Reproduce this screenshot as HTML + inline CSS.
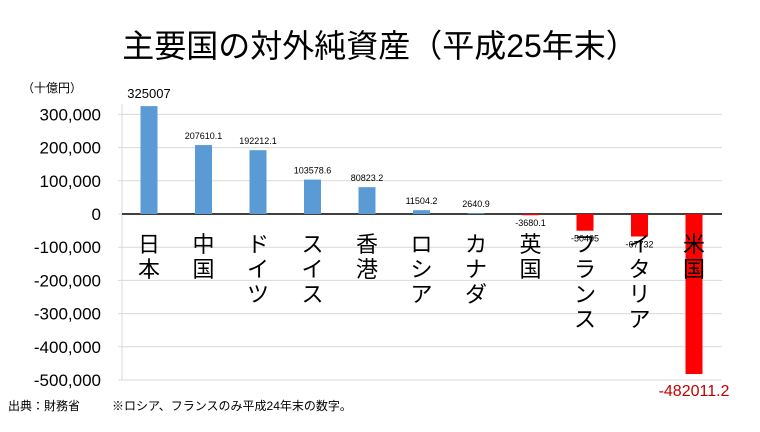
<!DOCTYPE html>
<html><head><meta charset="utf-8"><style>
body{margin:0;background:#fff;}
svg text{font-family:"Liberation Sans","Noto Sans CJK JP",sans-serif;}
</style></head><body>
<svg width="760" height="427" viewBox="0 0 760 427">
<text x="380" y="57" text-anchor="middle" font-size="32" fill="#000">主要国の対外純資産（平成25年末）</text>
<text x="22" y="92" font-size="12" fill="#000">（十億円）</text>
<g id="grid"></g><g id="bars"></g><g id="labels"></g>
<text x="8" y="410" font-size="12">出典：財務省</text>
<text x="112" y="410" font-size="12">※ロシア、フランスのみ平成24年末の数字。</text>
</svg>
<script>
const categories=["日本","中国","ドイツ","スイス","香港","ロシア","カナダ","英国","フランス","イタリア","米国"];
const values=[325007,207610.1,192212.1,103578.6,80823.2,11504.2,2640.9,-3680.1,-50405,-67732,-482011.2];
const valueLabels=["325007","207610.1","192212.1","103578.6","80823.2","11504.2","2640.9","-3680.1","-50405","-67732","-482011.2"];
const ticks=[300000,200000,100000,0,-100000,-200000,-300000,-400000,-500000];
const NS="http://www.w3.org/2000/svg";
const y0=214,k=33.2/100000,left=122,right=722,step=54.5,x0=149,bw=17;
const y=v=>y0-v*k, x=i=>x0+i*step;
function mk(t,a,p){const e=document.createElementNS(NS,t);for(const n in a)e.setAttribute(n,a[n]);p.appendChild(e);return e;}
const g=document.getElementById('grid'),b=document.getElementById('bars'),l=document.getElementById('labels');
mk('line',{x1:left,x2:left,y1:y(ticks[0])-10,y2:y(ticks[ticks.length-1]),stroke:'#d9d9d9'},g);
ticks.forEach(t=>{
 const ln=mk('line',{x1:left-4,x2:right,y1:y(t),y2:y(t),stroke:'#d9d9d9'},g);
 
 
 const tx=mk('text',{x:101,y:y(t)+6,'text-anchor':'end','font-size':17},g);
 tx.textContent=t.toLocaleString('en-US');
 
 
});
values.forEach((v,i)=>{
 const r=mk('rect',{x:x(i)-bw/2,y:Math.min(y(v),y0),width:bw,height:Math.abs(y(v)-y0),fill:v>=0?'#5b9bd5':'#ff0000'},b);
 
 
 let ly,fs=9,col='#000';
 if(v>=0){ly=y(v)-6;} else {ly=y(v)+11;}
 if(i===0){fs=13;ly=y(v)-8;}
 if(i===values.length-1){fs=16;ly=y(v)+22;col='#c00000';}
 const t=mk('text',{x:x(i),y:ly,'text-anchor':'middle','font-size':fs,fill:col},l);
 t.textContent=valueLabels[i];
 
 
 [...categories[i]].forEach((c,j)=>{
  const ct=mk('text',{x:x(i),y:252+j*25,'text-anchor':'middle','font-size':22},l);
  ct.textContent=c;
  
  
 });
});
mk('line',{x1:left,x2:right,y1:y0,y2:y0,stroke:'#404040','stroke-width':2},g);
</script>
</body></html>
